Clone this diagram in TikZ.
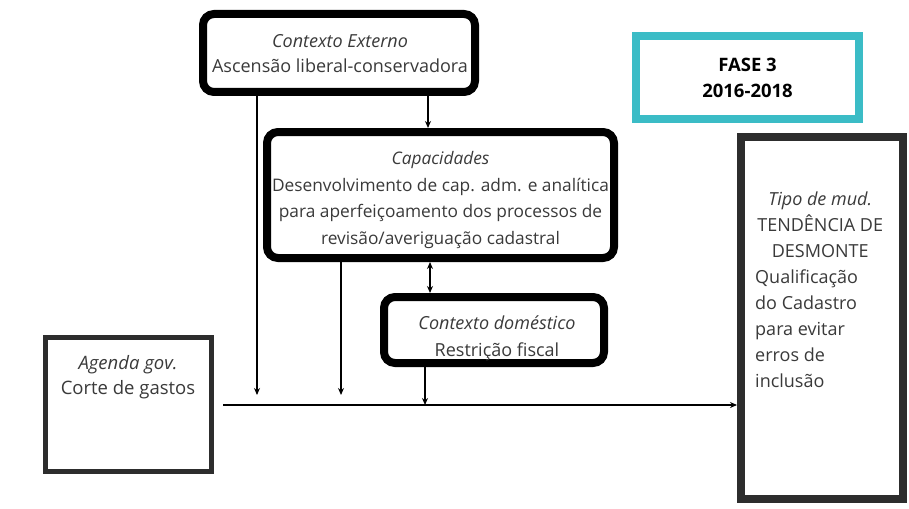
\documentclass[tikz,border=0pt]{standalone}
\usepackage{fontspec}
\setmainfont{Open Sans}
\usetikzlibrary{arrows.meta}
\definecolor{txt}{HTML}{3A3A3A}
\definecolor{teal}{HTML}{3BBCC6}
\definecolor{dgray}{HTML}{2D2D2D}
\begin{document}
\begin{tikzpicture}[x=1pt,y=-1pt,
  thickbox/.style={draw=black,line width=8pt,rounded corners=11pt,inner sep=0pt},
  plainbox/.style={draw=dgray,line width=#1,inner sep=0pt},
  lbl/.style={text=txt,font=\fontsize{18}{25}\selectfont,align=center,inner sep=0pt},
  conn/.style={line width=1.4pt,-{Stealth[length=7pt,width=6pt]}},
  conn2/.style={line width=1.4pt,{Stealth[length=7pt,width=6pt]}-{Stealth[length=7pt,width=6pt]}}]
\useasboundingbox (0,0) rectangle (909,508);
\fill[white] (0,0) rectangle (909,508);
% boxes
\node[thickbox,minimum width=272pt,minimum height=78pt] (ext) at (339,53) {};
\node[lbl] (exttxt) at (340,54) {\textit{Contexto Externo}\\Ascensão liberal-conservadora};
\node[thickbox,minimum width=347pt,minimum height=126pt] (cap) at (440.5,195) {};
\node[lbl,font=\fontsize{17.3}{26.5}\selectfont] (captxt) at (440.5,200) {\textit{Capacidades}\\Desenvolvimento de cap. adm. e analítica\\para aperfeiçoamento dos processos de\\revisão/averiguação cadastral};
\node[thickbox,minimum width=220pt,minimum height=66pt] (dom) at (494,330) {};
\node[lbl,font=\fontsize{18}{27}\selectfont] (domtxt) at (497,338) {\textit{Contexto doméstico}\\Restrição fiscal};
\node[plainbox=5pt,minimum width=166pt,minimum height=134pt] (ag) at (128,404) {};
\node[lbl,font=\fontsize{18.5}{25}\selectfont] (agtxt) at (128,377) {\textit{Agenda gov.}\\Corte de gastos};
\node[draw=teal,line width=8pt,inner sep=0pt,minimum width=223pt,minimum height=83pt,
  font=\fontsize{18.5}{26}\selectfont\bfseries,align=center,text=black] (fase) at (747.5,77.5) {FASE 3\\2016-2018};
\node[plainbox=8pt,minimum width=162pt,minimum height=362pt] (tipo) at (822,318) {};
\node[lbl,font=\fontsize{18}{26}\selectfont,align=left,anchor=north west] (tipotxt) at (755,192)
  {\makebox[130pt]{\textit{Tipo de mud.}}\\\makebox[130pt]{TENDÊNCIA DE}\\\makebox[130pt]{DESMONTE}\\Qualificação\\do Cadastro\\para evitar\\erros de\\inclusão};
% connectors
\coordinate (e1) at (257,395);
\coordinate (c1) at (341,395);
\coordinate (hl) at (223,405);
\draw[conn] (ext.south -| e1) -- (e1);
\draw[conn] (ext.south -| 428,0) -- (cap.north -| 428,0);
\draw[conn] (cap.south -| c1) -- (c1);
\draw[conn2] (cap.south -| 430,0) -- (dom.north -| 430,0);
\draw[conn] (dom.south -| 425,0) -- (425,405);
\draw[conn] (hl) -- (hl -| tipo.west);
\end{tikzpicture}
\end{document}
